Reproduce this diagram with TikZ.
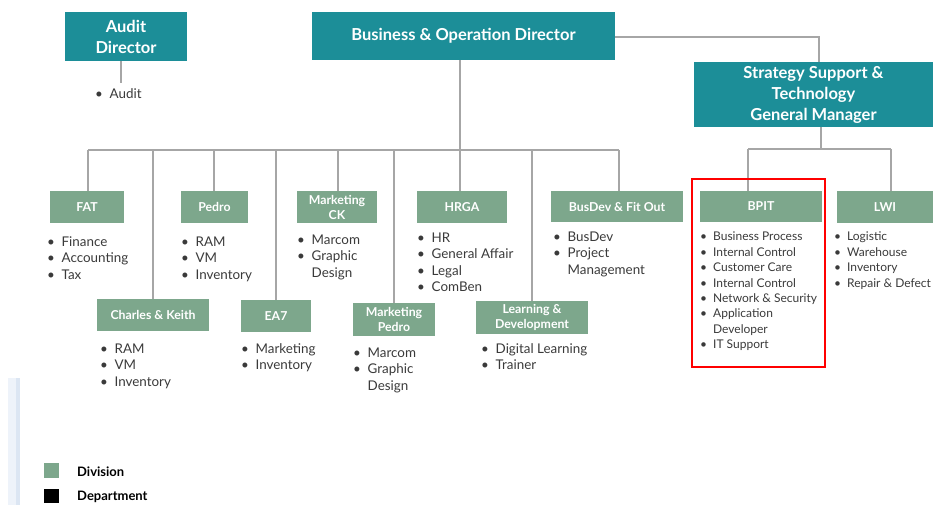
\documentclass[tikz,border=0pt]{standalone}
\usepackage{fontspec}
\setmainfont{Lato}
\usepackage{xcolor}
\definecolor{teal}{HTML}{1C8E98}
\definecolor{divgreen}{HTML}{7DA78C}
\definecolor{wire}{HTML}{A6A6A6}
\definecolor{ink}{HTML}{3A3A3A}
\definecolor{paleblue}{HTML}{EEF3FA}
\definecolor{edgeblue}{HTML}{DCE6F3}
\newcommand\bl{\textbullet\enspace}
\newcommand\nb{\phantom{\textbullet\enspace}}
\tikzset{
  dirbox/.style={fill=teal, text=white, inner sep=0, align=center,
    font=\fontsize{16.5}{21}\selectfont\bfseries},
  divbox/.style={fill=divgreen, text=white, inner sep=0, align=center,
    font=\fontsize{12.3}{15}\selectfont\bfseries},
  wire/.style={draw=wire, line width=1.2pt},
  items/.style={anchor=north west, inner sep=0, align=left, text=ink,
    font=\fontsize{13.4}{16.4}\selectfont},
  smallitems/.style={items, font=\fontsize{12}{15.4}\selectfont},
}
\begin{document}
\begin{tikzpicture}[x=1pt, y=-1pt]
  \useasboundingbox (0,0) rectangle (933,505);
  % faint strip at the left
  \fill[paleblue] (8,378) rectangle (20,505);
  \fill[edgeblue] (16,378) rectangle (20,505);
  % directors
  \node[dirbox, minimum width=122, minimum height=49] (audit) at (126,36.5) {Audit\\Director};
  \node[dirbox, minimum width=303, minimum height=48] (bod) at (463.5,36) {Business \& Operation Director};
  \node[dirbox, minimum width=239, minimum height=65] (sst) at (813.5,94.5) {Strategy Support \&\\Technology\\General Manager};
  % divisions
  \node[divbox, minimum width=74, minimum height=32] (fat) at (87,207) {FAT};
  \node[divbox, minimum width=67, minimum height=32] (pedro) at (214.5,207) {Pedro};
  \node[divbox, minimum width=112, minimum height=32] (ck) at (153,315) {Charles \& Keith};
  \node[divbox, minimum width=70, minimum height=32] (ea7) at (276,316) {EA7};
  \node[divbox, minimum width=80, minimum height=32] (mktck) at (337,207) {Marketing\\CK};
  \node[divbox, minimum width=90, minimum height=32] (hrga) at (462,207) {HRGA};
  \node[divbox, minimum width=82, minimum height=33] (mktpedro) at (394,319.5) {Marketing\\Pedro};
  \node[divbox, minimum width=112, minimum height=33] (ld) at (532,317.5) {Learning \&\\Development};
  \node[divbox, minimum width=132, minimum height=31] (busdev) at (617,206.5) {BusDev \& Fit Out};
  \node[divbox, minimum width=122, minimum height=31] (bpit) at (761,206.5) {BPIT};
  \node[divbox, minimum width=97, minimum height=32] (lwi) at (885,207) {LWI};
  % connectors
  \coordinate (auditend) at (121,83);
  \draw[wire] (audit.south -| auditend) -- (auditend);
  \coordinate (busL) at (88,150);
  \coordinate (busR) at (619,150);
  \draw[wire] (busL) -- (busR);
  \draw[wire] (bod.south -| 460,0) -- (460,150);
  \foreach \x/\n in {88/fat, 153/ck, 214/pedro, 276/ea7, 338/mktck, 394/mktpedro, 460/hrga, 532/ld, 619/busdev}{
    \draw[wire] (\x,150) -- (\n.north -| \x,0);
  }
  \coordinate (bend) at (819,37);
  \draw[wire] (bod.east |- bend) -- (bend) -- (sst.north -| bend);
  \draw[wire] (sst.south -| 821,0) -- (821,149);
  \draw[wire] (748,149) -- (891,149);
  \draw[wire] (748,149) -- (bpit.north -| 748,0);
  \draw[wire] (891,149) -- (lwi.north -| 891,0);
  % lists
  \node[items] (auditlist) at (95,88.5) {\bl Audit};
  \node[items] (fatlist) at (47,236.5) {\bl Finance\\\bl Accounting\\\bl Tax};
  \node[items] (pedrolist) at (181,236.5) {\bl RAM\\\bl VM\\\bl Inventory};
  \node[items] (cklist) at (100,343.5) {\bl RAM\\\bl VM\\\bl Inventory};
  \node[items] (ea7list) at (241,343) {\bl Marketing\\\bl Inventory};
  \node[items] (mktcklist) at (297,234.5) {\bl Marcom\\\bl Graphic\\\nb Design};
  \node[items] (hrgalist) at (417,232.5) {\bl HR\\\bl General Affair\\\bl Legal\\\bl ComBen};
  \node[items] (mktpedrolist) at (353,347.5) {\bl Marcom\\\bl Graphic\\\nb Design};
  \node[items] (ldlist) at (481,343) {\bl Digital Learning\\\bl Trainer};
  \node[items] (busdevlist) at (553,231.5) {\bl BusDev\\\bl Project\\\nb Management};
  \node[smallitems] (bpitlist) at (700,232) {\bl Business Process\\\bl Internal Control\\\bl Customer Care\\\bl Internal Control\\\bl Network \& Security\\\bl Application\\\nb Developer\\\bl IT Support};
  \node[smallitems] (lwilist) at (834,232) {\bl Logistic\\\bl Warehouse\\\bl Inventory\\\bl Repair \& Defect};
  % highlight
  \draw[red, line width=2pt] (692,179) rectangle (825,367);
  % legend
  \fill[divgreen] (44,463) rectangle (59,478);
  \fill[black] (44,489) rectangle (59,503);
  \node[anchor=west, inner sep=0, font=\fontsize{13}{14}\selectfont\bfseries] (division) at (77,472) {Division};
  \node[anchor=west, inner sep=0, font=\fontsize{13}{14}\selectfont\bfseries] (department) at (77,497) {Department};
\end{tikzpicture}
\end{document}
